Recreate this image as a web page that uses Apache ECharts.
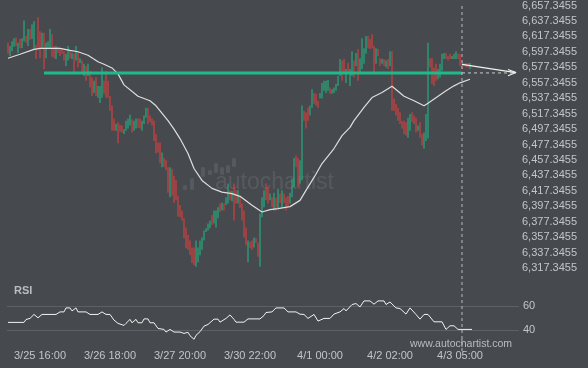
<!DOCTYPE html>
<html><head><meta charset="utf-8">
<script src="https://cdn.jsdelivr.net/npm/echarts@6/dist/echarts.min.js"></script>
<style>html,body{margin:0;padding:0;background:#46494e}#c{width:588px;height:368px}</style>
</head><body><div id="c"></div>
<script>
// ---- data ----
const timeLabels = ['3/25 16:00','3/26 18:00','3/27 20:00','3/30 22:00','4/1 00:00','4/2 02:00','4/3 05:00'];
const timeLabelIndex = [16,51,86,121,156,191,226];
const slotCount = 256;
// [open, close, low, high]
const candles = [
[6609,6595,6595,6609],[6592,6605,6592,6605],[6598,6611,6598,6611],[6604,6615,6604,6615],[6616,6605,6605,6616],
[6596,6609,6596,6609],[6614,6602,6602,6614],[6602,6615,6602,6615],[6611,6638,6611,6638],[6618,6609,6609,6618],
[6605,6627,6605,6627],[6627,6613,6613,6627],[6614,6633,6614,6633],[6601,6637,6601,6637],[6607,6588,6588,6607],
[6642,6601,6601,6642],[6624,6589,6589,6624],[6602,6622,6602,6622],[6622,6575,6575,6622],[6589,6609,6589,6609],
[6601,6611,6601,6611],[6602,6627,6602,6627],[6620,6591,6591,6620],[6605,6589,6589,6605],[6588,6605,6588,6605],
[6604,6596,6596,6604],[6601,6592,6592,6601],[6600,6595,6595,6600],[6598,6586,6586,6598],[6579,6595,6579,6595],
[6586,6605,6586,6605],[6600,6589,6589,6600],[6588,6596,6588,6596],[6595,6570,6570,6595],[6586,6605,6586,6605],
[6598,6577,6577,6598],[6583,6589,6583,6589],[6586,6570,6570,6586],[6566,6582,6566,6582],[6579,6560,6560,6579],
[6566,6582,6566,6582],[6573,6551,6551,6573],[6564,6540,6540,6564],[6544,6560,6544,6560],[6564,6540,6540,6564],
[6538,6553,6538,6553],[6531,6553,6531,6553],[6538,6577,6538,6577],[6560,6543,6543,6560],[6573,6538,6538,6573],
[6560,6538,6538,6560],[6540,6521,6521,6540],[6528,6495,6495,6528],[6511,6495,6495,6511],[6495,6504,6495,6504],
[6506,6479,6479,6506],[6503,6494,6494,6503],[6502,6493,6493,6502],[6491,6497,6491,6497],[6495,6508,6495,6508],
[6498,6511,6498,6511],[6502,6516,6502,6516],[6510,6493,6493,6510],[6495,6508,6495,6508],[6498,6511,6498,6511],
[6511,6499,6499,6511],[6511,6498,6498,6511],[6495,6508,6495,6508],[6504,6515,6504,6515],[6512,6525,6512,6525],
[6525,6504,6504,6525],[6515,6506,6506,6515],[6511,6502,6502,6511],[6508,6482,6482,6508],[6491,6466,6466,6491],
[6480,6467,6467,6480],[6480,6453,6453,6480],[6448,6467,6448,6467],[6460,6448,6448,6460],[6457,6444,6444,6457],
[6448,6415,6415,6448],[6409,6448,6409,6448],[6446,6411,6411,6446],[6437,6402,6402,6437],[6431,6405,6405,6431],
[6411,6384,6384,6411],[6399,6383,6383,6399],[6392,6379,6379,6392],[6382,6356,6356,6382],[6370,6343,6343,6370],
[6360,6341,6341,6360],[6353,6334,6334,6353],[6344,6324,6324,6344],[6344,6321,6321,6344],[6319,6353,6319,6353],
[6325,6344,6325,6344],[6334,6353,6334,6353],[6341,6357,6341,6357],[6353,6366,6353,6366],[6364,6369,6364,6369],
[6366,6375,6366,6375],[6369,6379,6369,6379],[6386,6373,6373,6386],[6375,6392,6375,6392],[6370,6392,6370,6392],
[6382,6396,6382,6396],[6401,6390,6390,6401],[6392,6402,6392,6402],[6401,6392,6392,6401],[6399,6409,6399,6409],
[6401,6427,6401,6427],[6418,6405,6405,6418],[6404,6417,6404,6417],[6427,6379,6379,6427],[6418,6401,6401,6418],
[6401,6418,6401,6418],[6411,6395,6395,6411],[6401,6379,6379,6401],[6392,6357,6357,6392],[6370,6347,6347,6370],
[6325,6353,6325,6353],[6351,6343,6343,6351],[6353,6341,6341,6353],[6344,6357,6344,6357],[6356,6350,6350,6356],
[6350,6332,6332,6350],[6319,6388,6319,6388],[6383,6409,6383,6409],[6396,6418,6396,6418],[6427,6405,6405,6427],
[6422,6401,6401,6422],[6405,6414,6405,6414],[6409,6396,6396,6409],[6392,6415,6392,6415],[6408,6392,6392,6408],
[6395,6420,6395,6420],[6414,6402,6402,6414],[6396,6418,6396,6418],[6414,6402,6402,6414],[6409,6392,6392,6409],
[6411,6396,6396,6411],[6401,6415,6401,6415],[6409,6433,6409,6433],[6422,6460,6422,6460],[6463,6448,6448,6463],
[6460,6422,6422,6460],[6427,6457,6427,6457],[6431,6528,6431,6528],[6521,6508,6508,6521],[6519,6498,6498,6519],
[6525,6508,6508,6525],[6515,6528,6515,6528],[6525,6549,6525,6549],[6544,6530,6530,6544],[6543,6528,6528,6543],
[6534,6525,6525,6534],[6537,6544,6537,6544],[6537,6557,6537,6557],[6547,6560,6547,6560],[6544,6560,6544,6560],
[6547,6561,6547,6561],[6551,6543,6543,6551],[6543,6549,6543,6549],[6544,6551,6544,6551],[6547,6556,6547,6556],
[6553,6566,6553,6566],[6566,6588,6566,6588],[6586,6560,6560,6586],[6588,6569,6569,6588],[6557,6575,6557,6575],
[6583,6569,6569,6583],[6553,6575,6553,6575],[6566,6598,6566,6598],[6586,6564,6564,6586],[6579,6596,6579,6596],
[6601,6560,6560,6601],[6570,6589,6570,6589],[6575,6615,6575,6615],[6582,6602,6582,6602],[6595,6618,6595,6618],
[6618,6602,6602,6618],[6614,6601,6601,6614],[6620,6602,6602,6620],[6605,6570,6570,6605],[6582,6602,6582,6602],
[6601,6592,6592,6601],[6589,6579,6579,6589],[6582,6588,6582,6588],[6588,6579,6579,6588],[6577,6586,6577,6586],
[6588,6575,6575,6588],[6579,6598,6579,6598],[6598,6521,6521,6598],[6537,6521,6521,6537],[6530,6515,6515,6530],
[6525,6508,6508,6525],[6519,6504,6504,6519],[6508,6498,6498,6508],[6508,6491,6491,6508],[6506,6489,6489,6506],
[6486,6512,6486,6512],[6495,6517,6495,6517],[6519,6506,6506,6519],[6515,6504,6504,6515],[6512,6493,6493,6512],
[6495,6502,6495,6502],[6506,6486,6486,6506],[6491,6476,6476,6491],[6472,6493,6472,6493],[6482,6517,6482,6517],
[6485,6609,6485,6609],[6589,6577,6577,6589],[6589,6556,6556,6589],[6577,6553,6553,6577],[6582,6560,6560,6582],
[6562,6575,6562,6575],[6564,6582,6564,6582],[6573,6595,6573,6595],[6588,6596,6588,6596],[6596,6588,6588,6596],
[6592,6586,6586,6592],[6595,6588,6588,6595],[6588,6592,6588,6592],[6588,6595,6588,6595],[6588,6598,6588,6598],
[6595,6588,6588,6595],[6595,6579,6579,6595],[6583,6575,6575,6583],[6583,6579,6579,6583],[6583,6577,6577,6583],
[6583,6577,6577,6583],[6575,6583,6575,6583]
];
// moving average [index, value]
const maLine = [
[0,6589.0],[6,6594.2],[13,6600.6],[16,6601.9],[26,6601.9],[31,6599.3],[35,6597.5],[40,6592.9],[45,6584.6],
[48,6581.3],[52,6576.5],[55,6568.8],[58,6554.6],[65,6539.8],[71,6534.0],[74,6527.5],[80,6508.2],[83,6497.2],
[86,6485.0],[90,6465.6],[93,6446.3],[97,6430.8],[102,6420.5],[107,6415.7],[112,6413.7],[116,6410.2],
[122,6398.6],[127,6389.9],[131,6393.0],[135,6394.3],[141,6396.9],[146,6405.0],[149,6417.9],[153,6434.7],
[157,6452.7],[163,6472.1],[167,6488.8],[171,6499.5],[173,6508.2],[178,6525.3],[182,6538.2],[187,6544.7],
[192,6552.7],[198,6539.8],[203,6534.0],[208,6527.5],[210,6530.7],[219,6546.9],[223,6553.3],[226,6557.2],[231,6561.9]
];
// RSI [index, value]
const rsiLine = [
[0,46.6],[8,46.6],[9,49.0],[11,49.9],[13,53.2],[14,53.2],[15,50.4],[17,53.2],[24,53.2],[26,55.3],[28,55.3],
[29,58.6],[31,58.6],[32,56.1],[34,58.6],[35,55.3],[39,55.3],[41,53.2],[45,53.2],[47,55.3],[49,53.2],[51,53.2],
[53,48.5],[55,45.8],[58,44.1],[59,45.8],[61,49.1],[62,46.3],[64,49.1],[65,46.3],[67,46.3],[68,49.5],[70,49.5],
[71,46.3],[73,46.3],[75,41.6],[78,40.8],[79,38.6],[81,40.8],[83,38.6],[86,38.6],[88,37.5],[90,38.4],[91,35.6],
[93,32.6],[94,35.9],[96,38.9],[98,43.5],[100,44.9],[103,49.3],[105,49.3],[106,46.8],[109,49.9],[111,52.8],
[113,49.1],[114,46.8],[118,46.8],[120,49.5],[126,49.5],[128,52.3],[129,54.8],[132,55.3],[134,58.6],[138,58.6],
[140,55.3],[144,55.3],[146,53.4],[148,53.2],[150,49.9],[153,53.2],[155,47.7],[158,49.9],[161,49.9],[163,53.5],
[166,55.3],[168,58.1],[169,56.1],[172,61.4],[174,62.2],[176,59.4],[178,64.4],[181,64.4],[183,61.7],[185,64.4],
[188,64.4],[189,61.4],[191,63.5],[194,58.6],[196,58.1],[199,53.5],[201,58.6],[204,53.2],[206,49.3],[208,53.2],
[210,53.2],[213,47.1],[217,47.1],[219,40.8],[221,43.8],[223,43.8],[225,40.8],[227,40.8],[232,40.8]
];
const supportLevel = 6570;
const supportStartIndex = 18;
const nowIndex = 227;
const forecastEndIndex = 254;
const forecastStartValue = 6581;
const forecastEndValue = 6570.5;
const arrowHead = [[250,6574.5],[254,6570.5],[250,6566.5]];
const priceAxisMin = 6297.3455, priceAxisMax = 6662.89, priceStep = 20;
const rsiAxisMin = 30, rsiAxisMax = 70, rsiStep = 10;
const rsiLevels = [40, 60];

// ---- chart ----
const cats = [];
for (let i = 0; i < slotCount; i++) cats.push('');
timeLabelIndex.forEach((ix, k) => { cats[ix] = timeLabels[k]; });

const GREEN = '#1dbd86', RED = '#ee3f3b', TXT = '#c2c5c9';
const FONT = 'Liberation Sans, Arial, sans-serif';
function fmtPrice(v) {
  const k = Math.round((v - priceAxisMin) / priceStep);
  const val = priceAxisMin + k * priceStep;
  const s = val.toFixed(4).split('.');
  return s[0].replace(/\B(?=(\d{3})+(?!\d))/g, ',') + '.' + s[1];
}
const xBase = {type:'category', data:cats, boundaryGap:true, axisLine:{show:false}, axisTick:{show:false}, splitLine:{show:false}};
const logoBars = [[183,185,190],[190,178,190],[201,167,177],[208,170,175],[214,163,173],[220,167,175],[226,165,173],[232,158,167]];

const chart = echarts.init(document.getElementById('c'), null, {renderer:'canvas'});
chart.setOption({
  backgroundColor:'#46494e',
  animation:false,
  title:{text:'RSI', left:14, top:285, padding:0, textStyle:{color:'#b9bdc1', fontSize:11, fontWeight:'bold', fontFamily:FONT}},
  grid:[
    {left:7, top:0, width:512, height:283.5},
    {left:7, top:294.15, width:512, height:48.3},
    {left:7, top:4, width:512, height:347}
  ],
  xAxis:[
    Object.assign({}, xBase, {gridIndex:0, axisLabel:{show:false}}),
    Object.assign({}, xBase, {gridIndex:1, axisLabel:{show:true, interval:0, margin:8, color:TXT, fontSize:11, fontFamily:FONT}}),
    Object.assign({}, xBase, {gridIndex:2, axisLabel:{show:false}})
  ],
  yAxis:[
    {gridIndex:0, type:'value', position:'right', min:priceAxisMin, max:priceAxisMax, interval:priceStep, scale:true,
     axisLine:{show:false}, axisTick:{show:false}, splitLine:{show:false},
     axisLabel:{margin:3, color:TXT, fontSize:11, fontFamily:FONT, showMinLabel:false, showMaxLabel:false, formatter:fmtPrice}},
    {gridIndex:1, type:'value', position:'right', min:rsiAxisMin, max:rsiAxisMax, interval:rsiStep,
     axisLine:{show:false}, axisTick:{show:false},
     splitLine:{show:true, lineStyle:{width:1, color:['rgba(0,0,0,0)','#5d6166','rgba(0,0,0,0)','#5d6166','rgba(0,0,0,0)']}},
     axisLabel:{margin:4, color:TXT, fontSize:11, fontFamily:FONT, formatter:v => rsiLevels.includes(v) ? String(v) : ''}},
    {gridIndex:2, type:'value', min:0, max:1, show:false}
  ],
  graphic:[
    {type:'text', left:215, top:171, silent:true, style:{text:'autochartist', fill:'rgba(255,255,255,0.09)', font:'23px ' + FONT}},
    ...logoBars.map(b => ({type:'rect', silent:true, shape:{x:b[0], y:b[1], width:4, height:b[2]-b[1], r:1.5}, style:{fill:'rgba(255,255,255,0.09)'}})),
    {type:'text', left:410, top:339, silent:true, style:{text:'www.autochartist.com', fill:'#b9bdc1', font:'10.5px ' + FONT}}
  ],
  series:[
    {type:'candlestick', xAxisIndex:0, yAxisIndex:0, data:candles, barWidth:1.4,
     itemStyle:{color:GREEN, color0:RED, borderColor:GREEN, borderColor0:RED, borderWidth:0}},
    {type:'line', xAxisIndex:0, yAxisIndex:0, data:maLine, symbol:'none', smooth:false,
     lineStyle:{color:'#dedede', width:1.2}},
    {type:'line', xAxisIndex:0, yAxisIndex:0, data:[[supportStartIndex,supportLevel],[nowIndex,supportLevel]], symbol:'none',
     lineStyle:{color:'#1fba8a', width:3}},
    {type:'line', xAxisIndex:0, yAxisIndex:0, data:[[nowIndex,supportLevel],[forecastEndIndex,supportLevel]], symbol:'none',
     lineStyle:{color:'#c9cbcd', width:1, type:[3,3]}},
    {type:'line', xAxisIndex:0, yAxisIndex:0, data:[[nowIndex,forecastStartValue],[forecastEndIndex,forecastEndValue]], symbol:'none',
     lineStyle:{color:'#f2f2f2', width:1.3}},
    {type:'line', xAxisIndex:0, yAxisIndex:0, data:arrowHead, symbol:'none',
     lineStyle:{color:'#f2f2f2', width:1.1}},
    {type:'line', xAxisIndex:1, yAxisIndex:1, data:rsiLine, symbol:'none', smooth:false,
     lineStyle:{color:'#f2f2f2', width:1}},
    {type:'line', xAxisIndex:2, yAxisIndex:2, data:[[nowIndex,0],[nowIndex,1]], symbol:'none',
     lineStyle:{color:'#b9bcbf', width:1, type:[3,3]}}
  ]
});
</script></body></html>
